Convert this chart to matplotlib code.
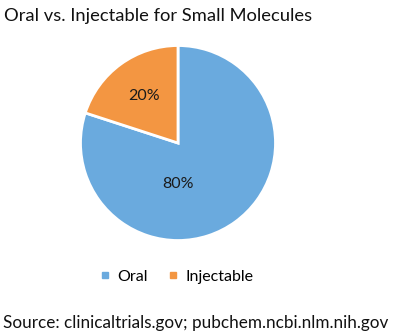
import matplotlib.pyplot as plt
from matplotlib.lines import Line2D

plt.rcParams['font.family'] = ['Lato', 'DejaVu Sans']

labels = ['Oral', 'Injectable']
shares = [80, 20]
colors = ['#6aaade', '#f39642']

fig = plt.figure(figsize=(4.0, 3.34), dpi=100)
ax = fig.add_axes([0.20125, 0.2799, 0.4875, 0.5838])

wedges, texts, autotexts = ax.pie(
    shares, colors=colors, startangle=90, counterclock=False,
    autopct='%d%%', pctdistance=0.6,
    wedgeprops=dict(edgecolor='white', linewidth=2),
    textprops=dict(fontsize=11.5, color='#1a1a1a'),
)
# the big slice label sits below centre
autotexts[0].set_position((0, -0.42))
ax.set_xlim(-1, 1)
ax.set_ylim(-1, 1)
ax.set_aspect('equal')

fig.text(0.01, 0.952, 'Oral vs. Injectable for Small Molecules',
         fontsize=13.2, va='center', ha='left', color='#111111')
fig.text(0.008, 0.033, 'Source: clinicaltrials.gov; pubchem.ncbi.nlm.nih.gov',
         fontsize=12.3, va='center', ha='left', color='#111111')

handles = [Line2D([], [], marker='s', linestyle='', markersize=4.5,
                  color=c) for c in colors]
fig.legend(handles, labels, loc='center', bbox_to_anchor=(0.442, 0.171),
           ncol=2, frameon=False, fontsize=11.5, handletextpad=0.45,
           columnspacing=1.3, handlelength=0.6)

fig.savefig('out.png', dpi=100)
